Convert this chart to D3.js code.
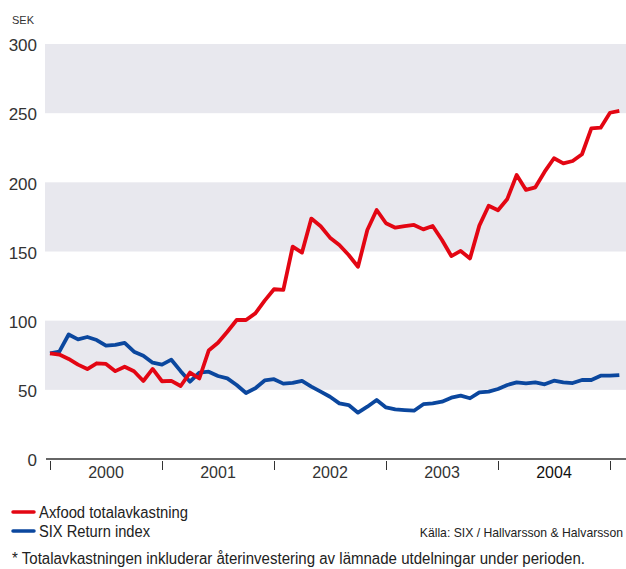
<!DOCTYPE html>
<html>
<head>
<meta charset="utf-8">
<script src="https://cdn.jsdelivr.net/npm/d3@7"></script>
<style>
  body { margin: 0; background: #fff; }
  svg text { font-family: "Liberation Sans", Arial, sans-serif; }
</style>
</head>
<body>
<svg id="chart" width="626" height="569"></svg>
<script>
// monthly values, Jan 2000 .. Feb 2005 (index 0..61)
const axfood = [76.4, 75.5, 72.3, 68.2, 65, 69.2, 68.7, 63.5, 66.7, 63.4,
  56.4, 65.1, 56.2, 56.5, 52.8, 62.5, 58.2, 78.4, 84, 92,
  100.5, 100.5, 105.3, 114.5, 122.7, 122.2, 153.5, 149.2, 173.8, 168.2,
  160, 154.7, 147.5, 139, 165.5, 180, 170.4, 167.2, 168.4, 169.2,
  166, 168.4, 158.3, 146.7, 150.4, 145, 168.7, 183.1, 179.8, 188,
  205.3, 194.5, 196.4, 207.7, 217.4, 213.7, 215.4, 220.3, 239, 239.5,
  250.3, 251.6];
const six = [76.4, 77.6, 90, 86.5, 88.2, 86, 81.9, 82.5, 84, 77.6,
  74.7, 69.6, 68.2, 71.8, 63.5, 55.9, 62.4, 63.1, 60, 58.3,
  53.5, 47.7, 51.1, 56.8, 57.7, 54.5, 55, 56.5, 52.3, 48.7,
  45, 40.2, 39, 33.5, 37.8, 42.7, 37.3, 35.9, 35.4, 34.9,
  39.6, 40.2, 41.4, 44.3, 45.8, 43.9, 48.2, 48.7, 50.6, 53.5,
  55.4, 54.7, 55.4, 54, 56.6, 55.4, 54.9, 57.1, 57.1, 60.2,
  60.2, 60.7];
const years = ["2000", "2001", "2002", "2003", "2004"];
const yTicks = [0, 50, 100, 150, 200, 250, 300];
const bands = [[50, 100], [150, 200], [250, 300]];

const svg = d3.select("#chart");
const plotLeft = 45, plotRight = 626;

const x = d3.scaleLinear().domain([0, 60]).range([50, 610]);
const y = d3.scaleLinear().domain([0, 300]).range([459, 44]);

// grey bands
svg.append("g").selectAll("rect")
  .data(bands)
  .join("rect")
  .attr("x", plotLeft)
  .attr("width", plotRight - plotLeft)
  .attr("y", d => y(d[1]))
  .attr("height", d => y(d[0]) - y(d[1]))
  .attr("fill", "#e8e8ee");

// y axis labels
svg.append("g")
  .attr("transform", `translate(${plotLeft},0)`)
  .call(d3.axisLeft(y).tickValues(yTicks).tickSize(0).tickPadding(8))
  .call(g => g.select(".domain").remove())
  .call(g => g.selectAll("text")
    .attr("fill", "#333")
    .style("font-family", "'Liberation Sans', Arial, sans-serif")
    .style("font-size", "17px")
    .attr("dy", "0.4em"));

svg.append("text")
  .attr("x", 12).attr("y", 24)
  .attr("fill", "#333")
  .style("font-size", "11px")
  .text("SEK");

// x axis
svg.append("line")
  .attr("x1", 46).attr("x2", plotRight)
  .attr("y1", y(0)).attr("y2", y(0))
  .attr("stroke", "#333").attr("stroke-width", 1.5);

svg.append("g")
  .attr("transform", `translate(0,${y(0) + 2})`)
  .call(d3.axisBottom(x).tickValues(d3.range(0, 61, 12)).tickSize(9).tickFormat(""))
  .call(g => g.select(".domain").remove())
  .call(g => g.selectAll("line").attr("stroke", "#333"));

svg.append("g").selectAll("text")
  .data(years)
  .join("text")
  .attr("x", (d, i) => x(i * 12 + 6))
  .attr("y", 478)
  .attr("text-anchor", "middle")
  .attr("fill", (d, i) => i === years.length - 1 ? "#111" : "#333")
  .style("font-size", "16px")
  .text(d => d);

// lines
const line = d3.line()
  .x((d, i) => x(i))
  .y(d => y(d));

svg.append("path")
  .datum(six)
  .attr("d", line)
  .attr("fill", "none")
  .attr("stroke", "#0b479e")
  .attr("stroke-width", 3.8)
  .attr("stroke-linejoin", "round");

svg.append("path")
  .datum(axfood)
  .attr("d", line)
  .attr("fill", "none")
  .attr("stroke", "#e30613")
  .attr("stroke-width", 3.8)
  .attr("stroke-linejoin", "round");

// legend (narrow type squeezed with textLength)
const legend = [
  { name: "Axfood totalavkastning", color: "#e30613", y: 512, w: 149 },
  { name: "SIX Return index", color: "#0b479e", y: 531, w: 111 }
];
const lg = svg.append("g");
lg.selectAll("line")
  .data(legend)
  .join("line")
  .attr("x1", 13).attr("x2", 34)
  .attr("y1", d => d.y).attr("y2", d => d.y)
  .attr("stroke", d => d.color)
  .attr("stroke-width", 3.5)
  .attr("stroke-linecap", "round");
lg.selectAll("text")
  .data(legend)
  .join("text")
  .attr("x", 39)
  .attr("y", d => d.y + 6)
  .attr("fill", "#222")
  .attr("textLength", d => d.w)
  .attr("lengthAdjust", "spacingAndGlyphs")
  .style("font-size", "16px")
  .text(d => d.name);

svg.append("text")
  .attr("x", 623).attr("y", 537)
  .attr("text-anchor", "end")
  .attr("fill", "#222")
  .style("font-size", "12.2px")
  .text("Källa: SIX / Hallvarsson & Halvarsson");

svg.append("text")
  .attr("x", 12).attr("y", 564)
  .attr("fill", "#222")
  .attr("textLength", 573)
  .attr("lengthAdjust", "spacingAndGlyphs")
  .style("font-size", "16px")
  .text("* Totalavkastningen inkluderar återinvestering av lämnade utdelningar under perioden.");
</script>
</body>
</html>
